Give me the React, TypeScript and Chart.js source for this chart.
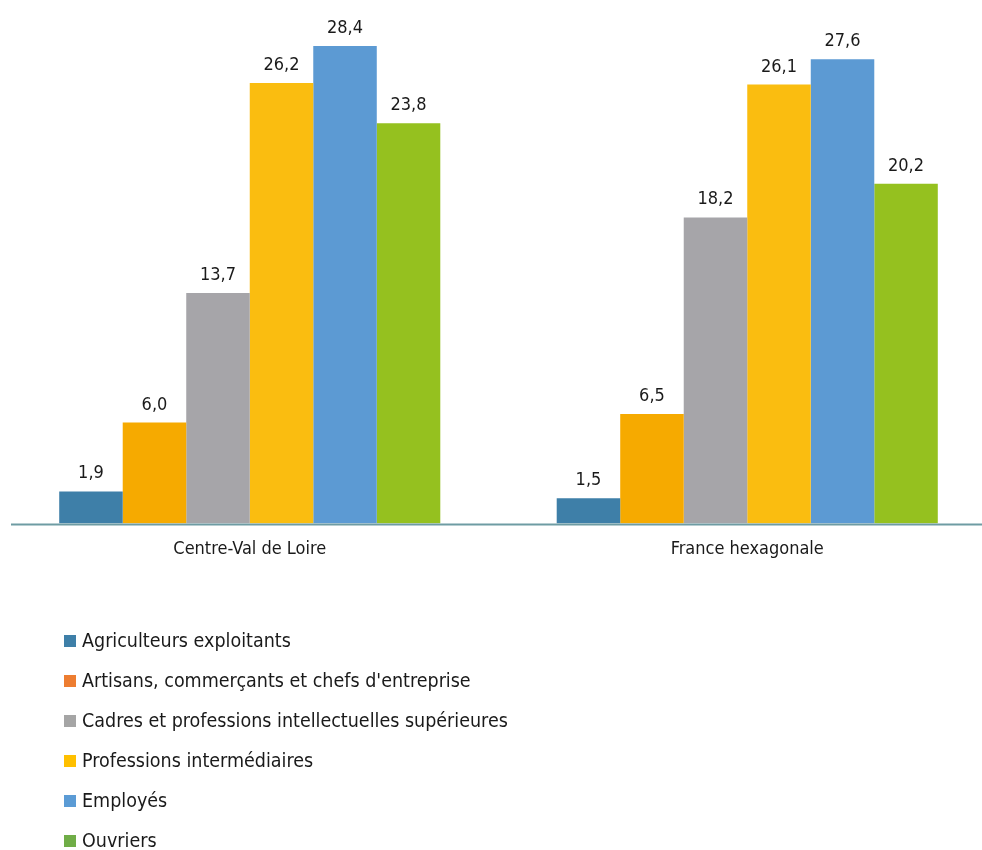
import React, { useEffect, useRef } from 'react';
import { Chart, registerables } from 'chart.js';

Chart.register(...registerables);

// Catégories socioprofessionnelles, en %
const categories = ['Centre-Val de Loire', 'France hexagonale'];
const seriesNames = [
  'Agriculteurs exploitants',
  "Artisans, commerçants et chefs d'entreprise",
  'Cadres et professions intellectuelles supérieures',
  'Professions intermédiaires',
  'Employés',
  'Ouvriers',
];
const agriculteurs = [1.9, 1.5];
const artisans = [6.0, 6.5];
const cadres = [13.7, 18.2];
const intermediaires = [26.2, 26.1];
const employes = [28.4, 27.6];
const ouvriers = [23.8, 20.2];

const barColors = ['#3E7FA8', '#F6AA00', '#A6A5A9', '#FABD10', '#5C9AD3', '#95C11F'];
const legendColors = ['#3E7FA8', '#ED7D31', '#A5A5A5', '#FFC000', '#5B9BD5', '#70AD47'];

const FONT = '"DejaVu Sans Condensed", "Liberation Sans Narrow", sans-serif';
const TEXT = '#1a1a1a';

const valueLabels = {
  id: 'valueLabels',
  afterDatasetsDraw(chart: any) {
    const ctx = chart.ctx;
    ctx.save();
    ctx.font = `18px ${FONT}`;
    ctx.fillStyle = TEXT;
    ctx.textAlign = 'center';
    ctx.textBaseline = 'alphabetic';
    chart.data.datasets.forEach((ds: any, i: number) => {
      const meta = chart.getDatasetMeta(i);
      meta.data.forEach((bar: any, j: number) => {
        const v = ds.data[j] as number;
        ctx.fillText(v.toFixed(1).replace('.', ','), bar.x, bar.y - 13);
      });
    });
    ctx.restore();
  },
};

const baseLine = {
  id: 'baseLine',
  afterDatasetsDraw(chart: any) {
    const ctx = chart.ctx;
    const y = chart.chartArea.bottom + 1;
    ctx.save();
    ctx.strokeStyle = '#6E9CA3';
    ctx.lineWidth = 2;
    ctx.beginPath();
    ctx.moveTo(11, y);
    ctx.lineTo(chart.width, y);
    ctx.stroke();
    ctx.restore();
  },
};

const listLegend = {
  id: 'listLegend',
  afterDraw(chart: any) {
    const ctx = chart.ctx;
    ctx.save();
    ctx.font = `19.5px ${FONT}`;
    ctx.textAlign = 'left';
    ctx.textBaseline = 'middle';
    seriesNames.forEach((name, i) => {
      const cy = 641 + i * 40;
      ctx.fillStyle = legendColors[i];
      ctx.fillRect(64, cy - 6, 12, 12);
      ctx.fillStyle = TEXT;
      ctx.fillText(name, 82, cy + 1);
    });
    ctx.restore();
  },
};

export default function App() {
  const ref = useRef<HTMLCanvasElement | null>(null);

  useEffect(() => {
    if (!ref.current) return;
    const values = [agriculteurs, artisans, cadres, intermediaires, employes, ouvriers];
    const chart = new Chart(ref.current, {
      type: 'bar',
      data: {
        labels: categories,
        datasets: seriesNames.map((name, i) => ({
          label: name,
          data: values[i],
          backgroundColor: barColors[i],
          borderWidth: 0,
          categoryPercentage: 0.766,
          barPercentage: 1,
        })),
      },
      options: {
        responsive: false,
        animation: false,
        layout: { padding: { left: 1, right: 0, top: 19, bottom: 275 } },
        plugins: {
          legend: { display: false },
          tooltip: { enabled: false },
        },
        scales: {
          x: {
            grid: { display: false, drawTicks: false },
            border: { display: false },
            ticks: { font: { family: FONT, size: 18 }, color: TEXT, padding: 15 },
          },
          y: { display: false, min: 0, max: 30 },
        },
      },
      plugins: [valueLabels, baseLine, listLegend],
    });
    return () => chart.destroy();
  }, []);

  return (
    <div style={{ position: 'absolute', left: 0, top: 0, width: 982, height: 850, overflow: 'hidden', background: '#fff' }}>
      <canvas ref={ref} width={996} height={850} style={{ display: 'block' }} />
    </div>
  );
}
